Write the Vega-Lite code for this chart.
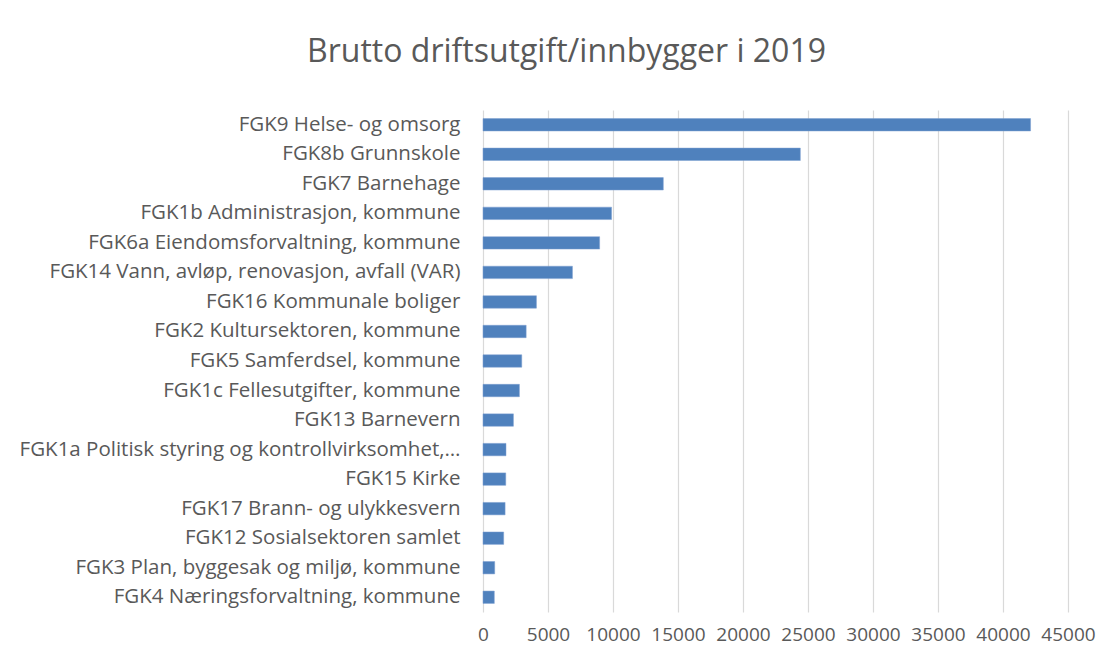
{
  "$schema": "https://vega.github.io/schema/vega-lite/v6.json",
  "width": 585,
  "height": 502,
  "autosize": {"type": "none"},
  "padding": {"left": 483, "top": 110, "right": 44, "bottom": 54},
  "background": "white",
  "title": {
    "text": "Brutto driftsutgift/innbygger i 2019",
    "anchor": "middle",
    "frame": "group",
    "dx": -209,
    "offset": 41,
    "font": "Open Sans",
    "fontSize": 32,
    "fontWeight": "normal",
    "color": "#595959"
  },
  "data": {
    "values": [
      {"kategori": "FGK9 Helse- og omsorg", "verdi": 42120},
      {"kategori": "FGK8b Grunnskole", "verdi": 24410},
      {"kategori": "FGK7 Barnehage", "verdi": 13870},
      {"kategori": "FGK1b Administrasjon, kommune", "verdi": 9890},
      {"kategori": "FGK6a Eiendomsforvaltning, kommune", "verdi": 8970},
      {"kategori": "FGK14 Vann, avløp, renovasjon, avfall (VAR)", "verdi": 6880},
      {"kategori": "FGK16 Kommunale boliger", "verdi": 4110},
      {"kategori": "FGK2 Kultursektoren, kommune", "verdi": 3320},
      {"kategori": "FGK5 Samferdsel, kommune", "verdi": 2980},
      {"kategori": "FGK1c Fellesutgifter, kommune", "verdi": 2800},
      {"kategori": "FGK13 Barnevern", "verdi": 2340},
      {"kategori": "FGK1a Politisk styring og kontrollvirksomhet,…", "verdi": 1770},
      {"kategori": "FGK15 Kirke", "verdi": 1750},
      {"kategori": "FGK17 Brann- og ulykkesvern", "verdi": 1700},
      {"kategori": "FGK12 Sosialsektoren samlet", "verdi": 1590},
      {"kategori": "FGK3 Plan, byggesak og miljø, kommune", "verdi": 900},
      {"kategori": "FGK4 Næringsforvaltning, kommune", "verdi": 870}
    ]
  },
  "mark": {"type": "bar", "color": "#4f81bd", "stroke": "#7d9fd0", "strokeWidth": 0.5},
  "encoding": {
    "y": {
      "field": "kategori",
      "type": "nominal",
      "sort": null,
      "title": null,
      "scale": {"paddingInner": 0.58, "paddingOuter": 0.29},
      "axis": {
        "ticks": false,
        "domain": false,
        "labelFont": "Open Sans",
        "labelFontSize": 20.5,
        "labelColor": "#595959",
        "labelPadding": 23,
        "labelLimit": 520
      }
    },
    "x": {
      "field": "verdi",
      "type": "quantitative",
      "title": null,
      "scale": {"domain": [0, 45000], "nice": false},
      "axis": {
        "values": [0, 5000, 10000, 15000, 20000, 25000, 30000, 35000, 40000, 45000],
        "format": "d",
        "ticks": false,
        "domain": false,
        "grid": true,
        "gridColor": "#d9d9d9",
        "gridWidth": 1.2,
        "labelFont": "Open Sans",
        "labelFontSize": 19,
        "labelColor": "#595959",
        "labelPadding": 13,
        "labelFlush": false,
        "labelOverlap": false
      }
    }
  },
  "config": {"view": {"stroke": null}}
}
